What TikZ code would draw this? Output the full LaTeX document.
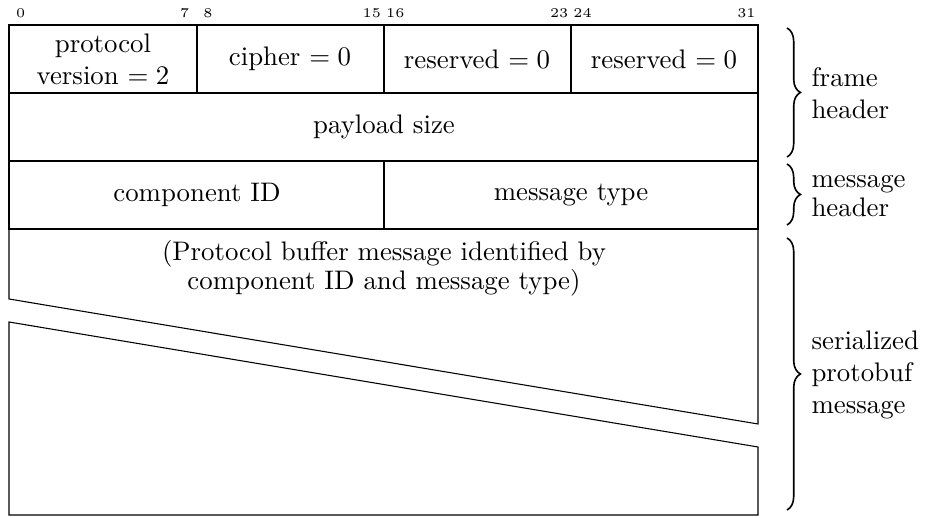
\documentclass[tikz,border=0pt]{standalone}
\usetikzlibrary{decorations.pathreplacing}

\tikzset{
  bitnum/.style={font=\tiny, inner sep=0pt},
  field/.style={align=center, inner sep=0pt},
  groupbrace/.style={decorate, decoration={brace, amplitude=5pt}, line width=0.6pt},
  grouplabel/.style={align=left, anchor=west, inner sep=0pt},
}

\begin{document}
\begin{tikzpicture}[x=0.373pt, y=-0.373pt]
    \useasboundingbox (0,0) rectangle (926,518);

    % bit positions, 32 bits per word
    \foreach \b in {0,7,8,15,16,23,24,31}
        \node[bitnum] (bit\b) at ({9+(\b+0.5)*23.41},13) {\b};

    % frame header
    \draw (9,25) rectangle (758,93);
    \draw (197,25) -- (197,93);
    \draw (384,25) -- (384,93);
    \draw (571,25) -- (571,93);
    \node[field] (version) at (103,59) {protocol\\version $=2$};
    \node[field] (cipher) at (290,59) {cipher $=0$};
    \node[field] (resa) at (477,59) {reserved $=0$};
    \node[field] (resb) at (664,59) {reserved $=0$};

    \draw (9,93) rectangle (758,161);
    \node[field] (size) at (384,127) {payload size};

    % message header
    \draw (9,161) rectangle (758,229);
    \draw (384,161) -- (384,229);
    \node[field] (compid) at (197,195) {component ID};
    \node[field] (msgtype) at (571,195) {message type};

    % protobuf body, broken in the middle
    \draw (9,229) -- (9,299) -- (758,424) -- (758,229);
    \draw (9,322) -- (758,447) -- (758,515) -- (9,515) -- cycle;
    \node[field] (body) at (384,268) {(Protocol buffer message identified by\\[-1.2pt]component ID and message type)};

    % groups on the right
    \draw[groupbrace] (787,28) -- (787,157);
    \node[grouplabel] (framelbl) at (811,93) {frame\\header};
    \draw[groupbrace] (787,164) -- (787,225);
    \node[grouplabel] (msglbl) at (811,196) {message\\[-1pt]header};
    \draw[groupbrace] (787,238) -- (787,510);
    \node[grouplabel] (pblbl) at (811,375) {serialized\\protobuf\\message};
\end{tikzpicture}
\end{document}
